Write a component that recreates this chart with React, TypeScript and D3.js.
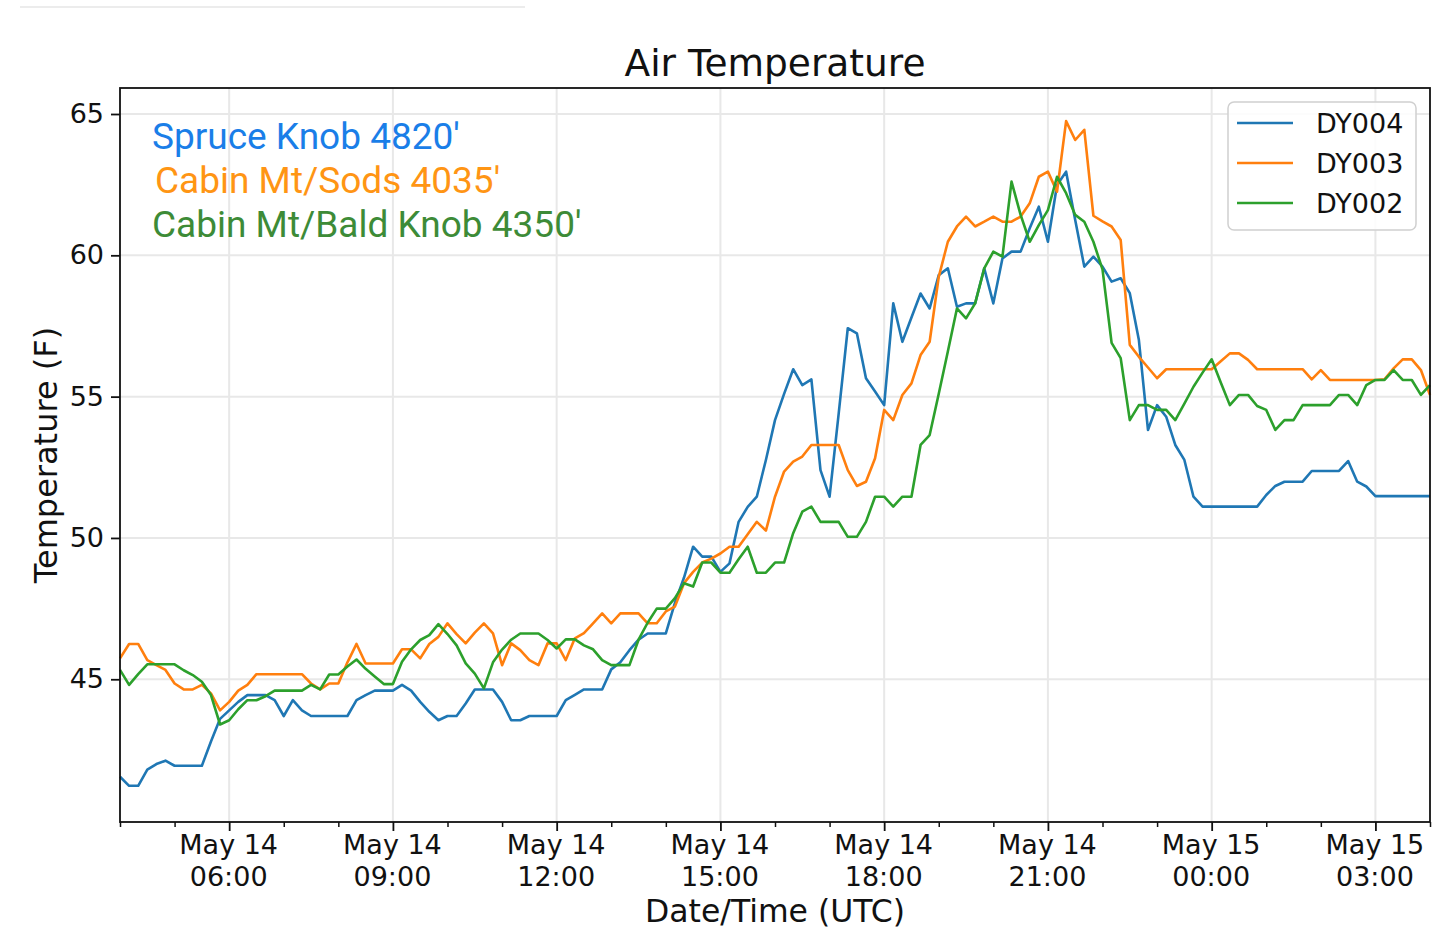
import { useEffect, useRef } from "react";
import * as d3 from "d3";

// 10-minute readings, May 14 04:00 UTC -> May 15 04:00 UTC
const START = Date.UTC(2019, 4, 14, 4, 0);
const STEP_MIN = 10;

const dy004 = [
  41.55, 41.23, 41.23, 41.8, 42.0, 42.12, 41.94, 41.94, 41.94, 41.94,
  42.8, 43.6, 43.9, 44.2, 44.44, 44.44, 44.44, 44.26, 43.7, 44.26,
  43.9, 43.7, 43.7, 43.7, 43.7, 43.7, 44.26, 44.44, 44.6, 44.6,
  44.6, 44.8, 44.6, 44.2, 43.85, 43.55, 43.7, 43.7, 44.14, 44.64,
  44.64, 44.64, 44.2, 43.55, 43.55, 43.7, 43.7, 43.7, 43.7, 44.26,
  44.45, 44.64, 44.64, 44.64, 45.35, 45.6, 46.03, 46.4, 46.62, 46.62,
  46.62, 47.7, 48.6, 49.69, 49.34, 49.34, 48.8, 49.1, 50.57, 51.1,
  51.46, 52.76, 54.17, 55.1, 55.97, 55.41, 55.61, 52.4, 51.46, 54.4,
  57.42, 57.24, 55.65, 55.18, 54.7, 58.3, 56.94, 57.8, 58.65, 58.12,
  59.3, 59.54, 58.18, 58.3, 58.3, 59.54, 58.3, 59.89, 60.13, 60.13,
  60.96, 61.72, 60.48, 62.49, 62.96, 61.25, 59.6, 59.95, 59.6, 59.07,
  59.19, 58.66, 57.0, 53.82, 54.7, 54.29, 53.29, 52.76, 51.46, 51.11,
  51.11, 51.11, 51.11, 51.11, 51.11, 51.11, 51.52, 51.84, 51.99, 51.99,
  51.99, 52.37, 52.37, 52.37, 52.37, 52.72, 51.99, 51.82, 51.48, 51.48,
  51.48, 51.48, 51.48, 51.48, 51.48,
];

const dy003 = [
  45.74, 46.25, 46.25, 45.68, 45.5, 45.33, 44.85, 44.64, 44.64, 44.8,
  44.5, 43.9, 44.2, 44.6, 44.8, 45.18, 45.18, 45.18, 45.18, 45.18,
  45.18, 44.85, 44.64, 44.85, 44.85, 45.6, 46.25, 45.56, 45.56, 45.56,
  45.56, 46.06, 46.06, 45.74, 46.25, 46.5, 46.98, 46.6, 46.27, 46.65,
  46.98, 46.62, 45.5, 46.27, 46.03, 45.68, 45.5, 46.27, 46.27, 45.68,
  46.45, 46.63, 46.98, 47.33, 46.98, 47.33, 47.33, 47.33, 46.98, 46.98,
  47.4, 47.57, 48.4, 48.8, 49.13, 49.27, 49.45, 49.69, 49.69, 50.13,
  50.57, 50.26, 51.46, 52.35, 52.7, 52.88, 53.29, 53.29, 53.29, 53.29,
  52.4, 51.84, 51.99, 52.82, 54.53, 54.17, 55.06, 55.47, 56.47, 56.94,
  59.24, 60.48, 61.02, 61.37, 61.02, 61.19, 61.37, 61.19, 61.19, 61.37,
  61.84, 62.78, 62.96, 62.25, 64.75, 64.08, 64.44, 61.4, 61.2, 61.02,
  60.54, 56.83, 56.41, 56.03, 55.65, 55.97, 55.97, 55.97, 55.97, 55.97,
  55.97, 56.25, 56.53, 56.53, 56.3, 55.97, 55.97, 55.97, 55.97, 55.97,
  55.97, 55.61, 55.94, 55.59, 55.59, 55.59, 55.59, 55.59, 55.59, 55.61,
  56.0, 56.32, 56.32, 55.94, 55.06,
];

const dy002 = [
  45.33, 44.8, 45.18, 45.53, 45.53, 45.53, 45.53, 45.32, 45.15, 44.91,
  44.44, 43.4, 43.55, 43.94, 44.26, 44.26, 44.4, 44.6, 44.6, 44.6,
  44.6, 44.8, 44.64, 45.17, 45.17, 45.45, 45.7, 45.37, 45.1, 44.83,
  44.83, 45.62, 46.06, 46.39, 46.56, 46.95, 46.6, 46.2, 45.56, 45.2,
  44.68, 45.6, 46.05, 46.4, 46.62, 46.62, 46.62, 46.39, 46.09, 46.41,
  46.41, 46.2, 46.06, 45.68, 45.5, 45.5, 45.5, 46.4, 47.0, 47.5,
  47.5, 47.87, 48.4, 48.28, 49.13, 49.13, 48.77, 48.77, 49.25, 49.69,
  48.77, 48.77, 49.13, 49.13, 50.17, 50.93, 51.11, 50.57, 50.57, 50.57,
  50.04, 50.04, 50.57, 51.46, 51.46, 51.11, 51.46, 51.46, 53.29, 53.64,
  55.1, 56.6, 58.12, 57.77, 58.3, 59.54, 60.13, 59.95, 62.61, 61.43,
  60.48, 61.07, 61.6, 62.78, 62.2, 61.43, 61.19, 60.48, 59.5, 56.9,
  56.36, 54.17, 54.7, 54.7, 54.53, 54.53, 54.17, 54.75, 55.35, 55.85,
  56.32, 55.5, 54.7, 55.06, 55.06, 54.67, 54.53, 53.82, 54.17, 54.17,
  54.7, 54.7, 54.7, 54.7, 55.06, 55.06, 54.7, 55.41, 55.59, 55.59,
  55.94, 55.59, 55.59, 55.06, 55.41,
];

const seriesNames = ["DY004", "DY003", "DY002"];
const seriesColors = ["#1f77b4", "#ff7f0e", "#2ca02c"];
const stationLabels = ["Spruce Knob 4820'", "Cabin Mt/Sods 4035'", "Cabin Mt/Bald Knob 4350'"];
const stationColors = ["#1a7ee8", "#ff9514", "#3d8b37"];
const yTicks = [45, 50, 55, 60, 65];

const WIDTH = 1440;
const HEIGHT = 942;
const AXIS_FONT = "'DejaVu Sans', sans-serif";

const App = () => {
  const svgRef = useRef<SVGSVGElement>(null);

  useEffect(() => {
    if (!svgRef.current) return;
    const svg = d3.select(svgRef.current);
    svg.selectAll("*").remove();

    const margin = { top: 88, right: 10, bottom: 120, left: 120 };
    const x0 = margin.left;
    const x1 = WIDTH - margin.right;
    const y0 = HEIGHT - margin.bottom; // 822
    const y1 = margin.top;

    const xScale = d3.scaleUtc()
      .domain([new Date(START), new Date(START + 24 * 3600 * 1000)])
      .range([x0, x1]);
    const yScale = d3.scaleLinear().domain([39.95, 65.92]).range([y0, y1]);

    const time = (i: number) => new Date(START + i * STEP_MIN * 60 * 1000);

    // top faint rule
    svg.append("line")
      .attr("x1", 20).attr("x2", 525).attr("y1", 7).attr("y2", 7)
      .attr("stroke", "#ececec").attr("stroke-width", 2);

    // grid
    const majorTimes = d3.utcHour.every(3)!.range(new Date(START + 1), new Date(START + 24 * 3600 * 1000));
    svg.append("g")
      .selectAll("line")
      .data(majorTimes)
      .join("line")
      .attr("x1", d => xScale(d)).attr("x2", d => xScale(d))
      .attr("y1", y1).attr("y2", y0)
      .attr("stroke", "#e8e8e8").attr("stroke-width", 2);
    svg.append("g")
      .selectAll("line")
      .data(yTicks)
      .join("line")
      .attr("x1", x0).attr("x2", x1)
      .attr("y1", d => yScale(d)).attr("y2", d => yScale(d))
      .attr("stroke", "#e8e8e8").attr("stroke-width", 2);

    // lines
    const line = d3.line<number>()
      .x((_, i) => xScale(time(i)))
      .y(d => yScale(d));
    const g = svg.append("g");
    [dy004, dy003, dy002].forEach((vals, k) => {
      g.append("path")
        .datum(vals)
        .attr("fill", "none")
        .attr("stroke", seriesColors[k])
        .attr("stroke-width", 2.6)
        .attr("stroke-linejoin", "round")
        .attr("d", line);
    });

    // frame
    svg.append("rect")
      .attr("x", x0).attr("y", y1)
      .attr("width", x1 - x0).attr("height", y0 - y1)
      .attr("fill", "none").attr("stroke", "#111").attr("stroke-width", 1.8);

    // x axis: minor hourly ticks, major 3-hourly ticks
    const minorTimes = d3.utcHour.every(1)!.range(new Date(START), new Date(START + 24 * 3600 * 1000 + 1))
      .filter(d => d.getUTCHours() % 3 !== 0);
    const xMinor = svg.append("g")
      .attr("transform", `translate(0,${y0})`)
      .call(d3.axisBottom(xScale).tickValues(minorTimes).tickSize(5).tickFormat(() => ""));
    xMinor.select(".domain").remove();
    xMinor.selectAll("line").attr("stroke", "#111").attr("stroke-width", 1.5);

    const xMajor = svg.append("g")
      .attr("transform", `translate(0,${y0})`)
      .call(d3.axisBottom(xScale).tickValues(majorTimes).tickSize(9).tickFormat(() => ""));
    xMajor.select(".domain").remove();
    xMajor.selectAll("line").attr("stroke", "#111").attr("stroke-width", 1.8);
    const fmtDay = d3.utcFormat("%b %d");
    const fmtHour = d3.utcFormat("%H:%M");
    xMajor.selectAll<SVGTextElement, Date>("text").each(function (d) {
      const t = d3.select(this);
      t.attr("y", 0).attr("dy", null)
        .attr("font-family", AXIS_FONT).attr("font-size", 27).attr("fill", "#111");
      t.append("tspan").attr("x", -1).attr("y", 32).text(fmtDay(d));
      t.append("tspan").attr("x", -1).attr("y", 64).text(fmtHour(d));
    });

    // y axis
    const yAxis = svg.append("g")
      .attr("transform", `translate(${x0},0)`)
      .call(d3.axisLeft(yScale).tickValues(yTicks).tickSize(9).tickPadding(7));
    yAxis.select(".domain").remove();
    yAxis.selectAll("line").attr("stroke", "#111").attr("stroke-width", 1.8);
    yAxis.selectAll("text")
      .attr("font-family", AXIS_FONT).attr("font-size", 27).attr("fill", "#111");

    // labels
    svg.append("text")
      .attr("x", (x0 + x1) / 2).attr("y", 76)
      .attr("text-anchor", "middle")
      .attr("font-family", AXIS_FONT).attr("font-size", 37.5).attr("fill", "#111")
      .text("Air Temperature");
    svg.append("text")
      .attr("x", (x0 + x1) / 2).attr("y", 922)
      .attr("text-anchor", "middle")
      .attr("font-family", AXIS_FONT).attr("font-size", 31.5).attr("fill", "#111")
      .text("Date/Time (UTC)");
    svg.append("text")
      .attr("transform", `translate(57,${(y0 + y1) / 2}) rotate(-90)`)
      .attr("text-anchor", "middle")
      .attr("font-family", AXIS_FONT).attr("font-size", 32).attr("fill", "#111")
      .text("Temperature (F)");

    // station annotations
    const annX = [152, 155, 152];
    stationLabels.forEach((label, k) => {
      svg.append("text")
        .attr("x", annX[k]).attr("y", 149 + k * 44)
        .attr("font-family", "Roboto, sans-serif").attr("font-size", 37)
        .attr("fill", stationColors[k])
        .text(label);
    });

    // legend
    const legend = svg.append("g").attr("transform", "translate(1228,102)");
    legend.append("rect")
      .attr("width", 188).attr("height", 128).attr("rx", 6)
      .attr("fill", "white").attr("fill-opacity", 0.85)
      .attr("stroke", "#d0d0d0").attr("stroke-width", 1.5);
    seriesNames.forEach((name, k) => {
      const yy = 21 + k * 40;
      legend.append("line")
        .attr("x1", 9).attr("x2", 65).attr("y1", yy).attr("y2", yy)
        .attr("stroke", seriesColors[k]).attr("stroke-width", 2.6);
      legend.append("text")
        .attr("x", 88).attr("y", yy + 10)
        .attr("font-family", AXIS_FONT).attr("font-size", 27).attr("fill", "#111")
        .text(name);
    });
  }, []);

  return (
    <svg
      ref={svgRef}
      width={WIDTH}
      height={HEIGHT}
      style={{ position: "absolute", left: 0, top: 0, background: "white" }}
    />
  );
};

export default App;
